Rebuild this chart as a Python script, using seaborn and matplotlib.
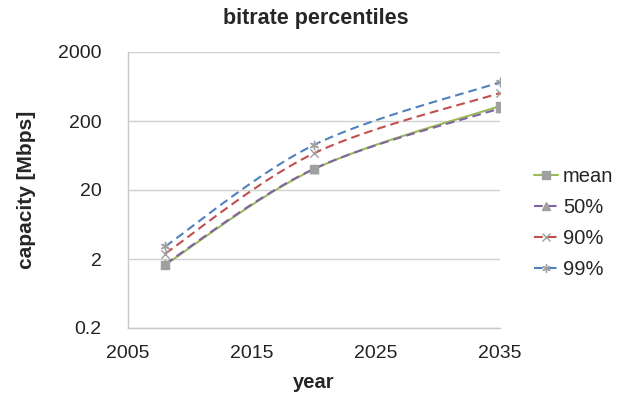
import numpy as np
import pandas as pd
import matplotlib
matplotlib.use("Agg")
import matplotlib.pyplot as plt
from matplotlib.lines import Line2D
import seaborn as sns

years = [2008, 2020, 2035]
series_names = ["mean", "50%", "90%", "99%"]
mean_vals = [1.65, 40.0, 330.0]
p50_vals = [1.70, 40.5, 305.0]
p90_vals = [2.40, 68.0, 510.0]
p99_vals = [3.05, 90.0, 730.0]

colors = {"mean": "#9BBB59", "50%": "#8064A2", "90%": "#C0504D", "99%": "#4F81BD"}
dash = (0, (4.2, 2.4))
dashes = {"mean": "-", "50%": dash, "90%": dash, "99%": dash}
markers = {"mean": "s", "50%": "^", "90%": "x", "99%": (6, 2, 0)}
marker_color = "#A0A0A0"

df = pd.DataFrame({
    "year": years * 4,
    "value": mean_vals + p50_vals + p90_vals + p99_vals,
    "series": sum([[s] * len(years) for s in series_names], []),
})

sns.set_theme(style="white")
plt.rcParams["font.family"] = ["Liberation Sans", "DejaVu Sans"]

fig = plt.figure(figsize=(6.22, 3.94), dpi=100)
ax = fig.add_axes([128 / 622, 1 - 328 / 394, 372 / 622, 276 / 394])
ax.set_yscale("log")
ax.set_xlim(2005, 2035)
ax.set_ylim(0.2, 2000)


def smooth(xs, ys, n=40):
    """Bezier smoothing through the points in log-y space."""
    x = np.asarray(xs, float)
    y = np.log10(np.asarray(ys, float))
    P = np.column_stack([x, y])
    out = []
    m = len(P)
    for i in range(m - 1):
        p0 = P[max(i - 1, 0)]
        p1 = P[i]
        p2 = P[i + 1]
        p3 = P[min(i + 2, m - 1)]
        c1 = p1 + (p2 - p0) / 6.0
        c2 = p2 - (p3 - p1) / 6.0
        t = np.linspace(0, 1, n)[:, None]
        seg = ((1 - t) ** 3) * p1 + 3 * ((1 - t) ** 2) * t * c1 + 3 * (1 - t) * t ** 2 * c2 + t ** 3 * p2
        out.append(seg if i == 0 else seg[1:])
    c = np.vstack(out)
    return c[:, 0], 10 ** c[:, 1]


for name in series_names:
    sub = df[df["series"] == name]
    sx, sy = smooth(sub["year"], sub["value"])
    ax.plot(sx, sy, color=colors[name], linestyle=dashes[name], lw=1.5, zorder=2)

for name in series_names:
    sub = df[df["series"] == name]
    filled = name in ("mean", "50%")
    sns.scatterplot(data=sub, x="year", y="value", marker=markers[name], s=36,
                    color=marker_color, edgecolor=marker_color if filled else None,
                    linewidth=1.0, legend=False, ax=ax, zorder=3)

ax.set_yticks([0.2, 2, 20, 200, 2000])
ax.set_yticklabels(["0.2", "2", "20", "200", "2000"])
ax.minorticks_off()
ax.set_xticks([2005, 2015, 2025, 2035])
ax.tick_params(axis="both", length=0, labelsize=14, colors="#222222")
ax.tick_params(axis="x", pad=12)
ax.tick_params(axis="y", pad=19)
ax.grid(axis="y", color="#D0D0D0", lw=1)
for s in ["top", "right"]:
    ax.spines[s].set_visible(False)
for s in ["left", "bottom"]:
    ax.spines[s].set_color("#C8C8C8")
    ax.spines[s].set_linewidth(1)

ax.set_xlabel("year", fontsize=14.5, fontweight="bold", labelpad=8)
ax.set_ylabel("capacity [Mbps]", fontsize=15, fontweight="bold", labelpad=16)
fig.text(0.507, 0.953, "bitrate percentiles", ha="center", va="center",
         fontsize=15.5, fontweight="bold")

handles = []
for name in series_names:
    handles.append(Line2D([0], [0], color=colors[name], linestyle=dashes[name], lw=1.5,
                          marker=markers[name], markersize=6, markerfacecolor=marker_color,
                          markeredgecolor=marker_color))
leg = fig.legend(handles, series_names, loc="center left", bbox_to_anchor=(0.858, 0.434),
                 frameon=False, fontsize=14.5, handlelength=1.2, handletextpad=0.25,
                 labelspacing=0.6, numpoints=1, borderaxespad=0, borderpad=0)

fig.savefig("out.png", dpi=100)
